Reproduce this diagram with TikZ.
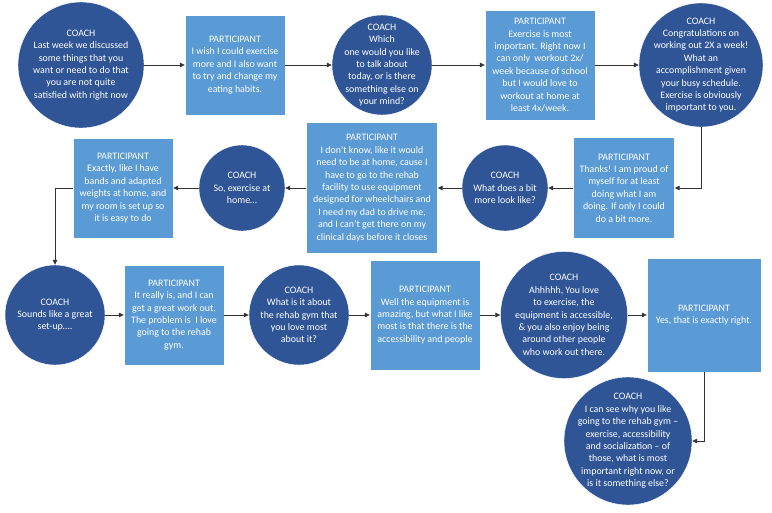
\documentclass[tikz,border=0pt]{standalone}
\usepackage{fontspec}
\setmainfont{Carlito}
\usetikzlibrary{arrows.meta}
\usetikzlibrary{calc}

\definecolor{coachblue}{HTML}{2F5597}
\definecolor{partblue}{HTML}{5B9BD5}

\begin{document}
\begin{tikzpicture}[x=1pt, y=-1pt, font=\fontsize{9.9}{12.4}\selectfont,
    coach/.style={circle, draw=white, fill=coachblue, text=white, align=center, inner sep=-20pt, minimum size=#1},
    participant/.style={rectangle, draw=white, fill=partblue, text=white, align=center, inner sep=1pt, minimum size=#1},
    talk/.style={draw=black!80, line width=0.7pt, -{Triangle[length=5pt, width=4.5pt]}}]
        \useasboundingbox (0,0) rectangle (772,512);

        % first row
        \node[coach=126pt] (c1) at (81, 65) {COACH\\Last week we discussed\\some things that you\\want or need to do that\\you are not quite\\satisfied with right now};
        \node[participant=100pt] (p1) at (235, 65) {PARTICIPANT\\I wish I could exercise\\more and I also want\\to try and change my\\eating habits.};
        \node[coach=100pt] (c2) at (382, 65) {COACH\\Which\\one would you like\\to talk about\\today, or is there\\something else on\\your mind?};
        \node[participant=110pt] (p2) at (540, 65) {PARTICIPANT\\Exercise is most\\important. Right now I\\can only\ \ workout 2x/\\week because of school\\but I would love to\\workout at home at\\least 4x/week.};
        \node[coach=124pt] (c3) at (701, 65) {COACH\\Congratulations on\\working out 2X a week!\\What an\\accomplishment given\\your busy schedule.\\Exercise is obviously\\important to you.};

        % second row
        \node[participant=101pt] (p3) at (624, 188) {PARTICIPANT\\Thanks! I am proud of\\myself for at least\\doing what I am\\doing. If only I could\\do a bit more.};
        \node[coach=86pt] (c4) at (505, 188) {COACH\\What does a bit\\more look like?};
        \node[participant=131pt] (p4) at (372, 188) {PARTICIPANT\\I don’t know, like it would\\need to be at home, cause I\\have to go to the rehab\\facility to use equipment\\designed for wheelchairs and\\I need my dad to drive me,\\and I can’t get there on my\\clinical days before it closes};
        \node[coach=86pt] (c5) at (242, 188) {COACH\\So, exercise at\\home\dots};
        \node[participant=100pt] (p5) at (123, 188) {PARTICIPANT\\Exactly, like I have\\bands and adapted\\weights at home, and\\my room is set up so\\it is easy to do};

        % third row
        \node[coach=100pt] (c6) at (55, 315) {COACH\\Sounds like a great\\set-up\dots.};
        \node[participant=100pt] (p6) at (174, 315) {PARTICIPANT\\It really is, and I can\\get a great work out.\\The problem is\ \ I love\\going to the rehab\\gym.};
        \node[coach=100pt] (c7) at (299, 315) {COACH\\What is it about\\the rehab gym that\\you love most\\about it?};
        \node[participant=110pt] (p7) at (425, 315) {PARTICIPANT\\Well the equipment is\\amazing, but what I like\\most is that there is the\\accessibility and people};
        \node[coach=127pt] (c8) at (564, 315) {COACH\\Ahhhhh, You love\\to exercise, the\\equipment is accessible,\\\& you also enjoy being\\around other people\\who work out there.};
        \node[participant=114pt] (p8) at (704, 315) {PARTICIPANT\\Yes, that is exactly right.};

        \node[coach=128pt] (c9) at (628, 441) {COACH\\I can see why you like\\going to the rehab gym –\\exercise, accessibility\\and socialization – of\\those, what is most\\important right now, or\\is it something else?};

        \draw[talk] (c1) -- (p1);
        \draw[talk] (p1) -- (c2);
        \draw[talk] (c2) -- (p2);
        \draw[talk] (p2) -- (c3);
        \draw[talk] (c3.south) |- (p3.east);
        \draw[talk] (p3) -- (c4);
        \draw[talk] (c4) -- (p4);
        \draw[talk] (p4) -- (c5);
        \draw[talk] (c5) -- (p5);
        \draw[talk] (p5.west) -| (c6.north);
        \draw[talk] (c6) -- (p6);
        \draw[talk] (p6) -- (c7);
        \draw[talk] (c7) -- (p7);
        \draw[talk] (p7) -- (c8);
        \draw[talk] (c8) -- (p8);
        \draw[talk] (p8.south) |- (c9.east);
      \end{tikzpicture}
\end{document}
